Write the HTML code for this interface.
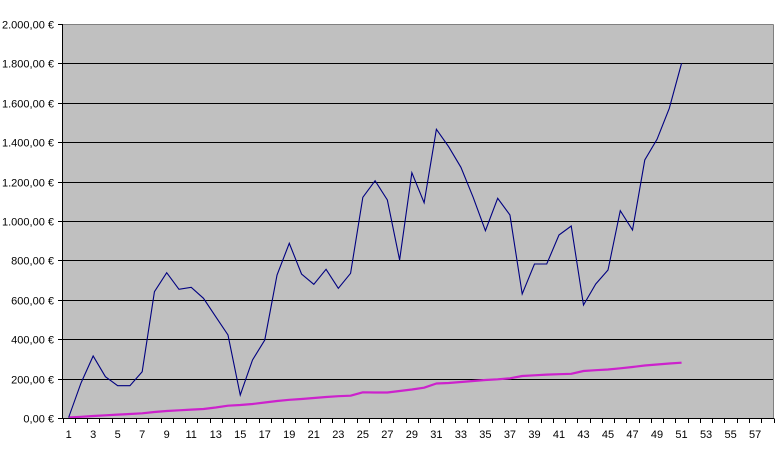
<!DOCTYPE html>
<html><head><meta charset="utf-8"><style>
html,body{margin:0;padding:0;background:#fff;}
svg{display:block;}
text{font-family:"Liberation Sans",Arial,sans-serif;font-size:11px;fill:#000;}
</style></head><body>
<svg id="c" width="777" height="457" viewBox="0 0 777 457" xmlns="http://www.w3.org/2000/svg">
<rect x="62.5" y="24.5" width="711" height="394" fill="#C0C0C0"/>
<g id="grid" stroke="#000" stroke-width="1"></g>
<line x1="62.5" y1="24.5" x2="773.5" y2="24.5" stroke="#808080"/>
<line x1="773.5" y1="24.5" x2="773.5" y2="418.5" stroke="#808080"/>
<g id="series"></g>
<line x1="62.5" y1="24" x2="62.5" y2="419" stroke="#000"/>
<line x1="62" y1="418.5" x2="774" y2="418.5" stroke="#000"/>
<g id="ticks" stroke="#000"></g>
<g id="ylab" text-anchor="end"></g>
<g id="xlab" text-anchor="middle"></g>
</svg>
<script>
(function(){
var NS="http://www.w3.org/2000/svg";
function el(p,n,a,t){var e=document.createElementNS(NS,n);for(var k in a)e.setAttribute(k,a[k]);if(t!=null)e.textContent=t;document.getElementById(p).appendChild(e);return e;}
var rows=[418,379,339,300,260,221,182,142,103,63,24];
var labs=["0,00 €","200,00 €","400,00 €","600,00 €","800,00 €","1.000,00 €","1.200,00 €","1.400,00 €","1.600,00 €","1.800,00 €","2.000,00 €"];
for(var i=0;i<rows.length;i++){
 var y=rows[i]+0.5;
 if(i>0&&i<10) el("grid","line",{x1:62.5,y1:y,x2:773.5,y2:y});
 el("ticks","line",{x1:58,y1:y,x2:62.5,y2:y});
 el("ylab","text",{x:54,y:rows[i]+4.5},labs[i]);
}
var L=62.5,W=711,N=58,s=W/N;
for(var k=0;k<=N;k++){var x=Math.round(L+s*k)+0.5;el("ticks","line",{x1:x,y1:418.5,x2:x,y2:423});}
for(var c=1;c<=57;c+=2){el("xlab","text",{x:L+s*(c-0.5),y:438},String(c));}
var blue=[417.5,383.3,356,376.7,385.7,385.7,371.7,291.7,272.7,289.3,287.3,298.3,316.7,335,395,360,340,275,243.3,274,284.3,269.3,288.3,273.3,197.3,180.7,200,260,172.7,202.7,129.3,146.7,167.3,197.3,230.7,198.3,215,294,264,264,235,226,305,284,270,210.7,230,160,139.3,108.3,63.3];
var pk={1:417.5,2:416.8,3:416,4:415.3,5:414.6,6:414,7:413.3,8:412,9:411,10:410.3,11:409.6,12:409,13:407.5,14:405.7,15:405,16:404,17:402.5,18:401,19:399.8,20:399,21:398,22:397,23:396.2,24:395.7,25:392.3,26:392.5,27:392.5,28:391,29:389.5,30:387.7,31:383.5,32:383,33:382,34:381,35:380,36:379.3,37:378.3,38:376,39:375.3,40:374.6,41:374.2,42:373.8,43:371,44:370.2,45:369.5,46:368.3,47:367,48:365.5,49:364.5,50:363.5,51:362.7};
var pb="",pp="";
for(var i=0;i<blue.length;i++){var x=(L+s*(i+0.5)).toFixed(2);pb+=(i?"L":"M")+x+","+blue[i];pp+=(i?"L":"M")+x+","+pk[i+1];}
el("series","path",{d:pp,fill:"none",stroke:"#CC22CC","stroke-width":2.2,"stroke-linejoin":"round"});
el("series","path",{d:pb,fill:"none",stroke:"#000080","stroke-width":1.1,"stroke-linejoin":"miter"});
})();
</script>
</body></html>
